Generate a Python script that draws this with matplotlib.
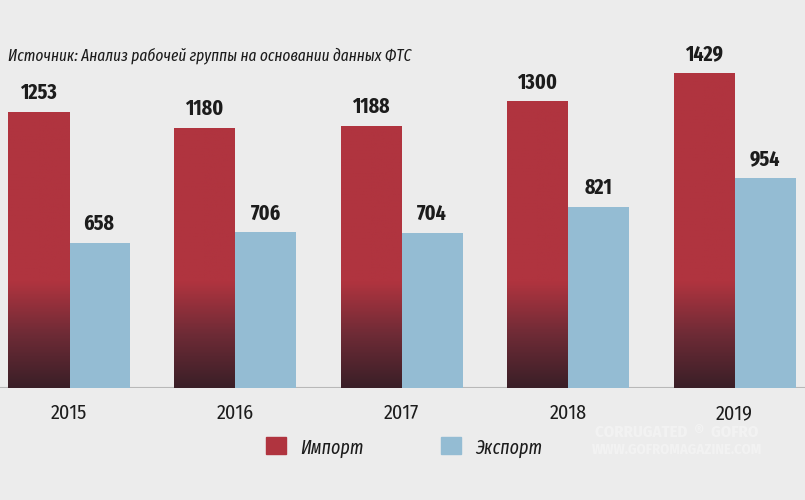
import numpy as np
import matplotlib.pyplot as plt
from matplotlib.colors import LinearSegmentedColormap

# datos
anios = ['2015', '2016', '2017', '2018', '2019']
importacion = [1253, 1180, 1188, 1300, 1429]
exportacion = [658, 706, 704, 821, 954]

titulo = 'Источник: Анализ рабочей группы на основании данных ФТС'
etiquetas = ['Импорт', 'Экспорт']

fondo = '#ececec'
rojo = '#b0343f'
rojo_oscuro = '#3a1f27'
azul = '#94bcd3'
texto = '#1c1c1c'
fuente = ['Fira Sans Condensed', 'Liberation Sans Narrow', 'DejaVu Sans']
fuente_ec = ['Fira Sans Extra Condensed', 'Fira Sans Condensed', 'DejaVu Sans']

W, H = 805, 500
fig = plt.figure(figsize=(W / 100, H / 100), dpi=100, facecolor=fondo)

# ejes en pixeles: linea base en y=388, grupos cada 166.5 px
base = 388
ax = fig.add_axes([0, 1 - base / H, 1, base / H])
ax.set_facecolor(fondo)
paso = 166.5
centro0 = 68.5
ax.set_xlim((0 - centro0) / paso, (W - centro0) / paso)
ax.set_ylim(0, base / 0.2205)
ancho = 61 / paso

x = np.arange(len(anios))
barras_r = ax.bar(x - ancho / 2, importacion, ancho, color=rojo, linewidth=0, zorder=2)
barras_a = ax.bar(x + ancho / 2, exportacion, ancho, color=azul, linewidth=0, zorder=2)

# degradado oscuro en la parte baja de las barras rojas
cmap = LinearSegmentedColormap.from_list('grad', [rojo_oscuro, '#6e2b36', rojo])
ymax = ax.get_ylim()[1]
limite = 480
grad = np.linspace(0, 1, 256).reshape(-1, 1)
grad = np.clip(grad * ymax / limite, 0, 1)
for b in barras_r:
    im = ax.imshow(grad, cmap=cmap, aspect='auto', origin='lower',
                   extent=[b.get_x(), b.get_x() + b.get_width(), 0, ymax],
                   vmin=0, vmax=1, zorder=3)
    im.set_clip_path(b)

# valores sobre las barras
for xs, vals in [(x - ancho / 2, importacion), (x + ancho / 2, exportacion)]:
    for xi, v in zip(xs, vals):
        ax.text(xi, v + 38, str(v), ha='center', va='bottom', fontsize=15.5,
                fontweight='bold', color=texto, family=fuente_ec, zorder=4)

ax.axhline(0, color='#b8b8b8', linewidth=1.5, zorder=1)
for s in ax.spines.values():
    s.set_visible(False)
ax.set_yticks([])
ax.set_xticks(x)
ax.set_xticklabels(anios, fontsize=14.5, color=texto, family=fuente)
ax.tick_params(axis='x', length=0, pad=11)

# titulo
fig.text(8 / W, 1 - 60 / H, titulo, fontsize=12, style='italic', color=texto,
         family=fuente_ec, va='baseline', ha='left')

# leyenda hecha a mano
for i, (lab, col) in enumerate(zip(etiquetas, [rojo, azul])):
    x0 = [266, 441][i]
    fig.patches.append(plt.Rectangle((x0 / W, 1 - 454 / H), 20 / W, 17 / H,
                                     transform=fig.transFigure, color=col, figure=fig))
    fig.text((x0 + 34) / W, 1 - 454 / H, lab, fontsize=14, style='italic',
             color=texto, family=fuente_ec, va='baseline', ha='left')

# marca de agua
fig.text(677 / W, 1 - 432 / H, 'CORRUGATED  ®  GOFRO', fontsize=12, color='white',
         alpha=0.35, fontweight='bold', ha='center', va='center', family=fuente)
fig.text(677 / W, 1 - 450 / H, 'WWW.GOFROMAGAZINE.COM', fontsize=10.5, color='white',
         alpha=0.35, fontweight='bold', ha='center', va='center', family=fuente)

fig.savefig('out.png', dpi=100, facecolor=fondo)
